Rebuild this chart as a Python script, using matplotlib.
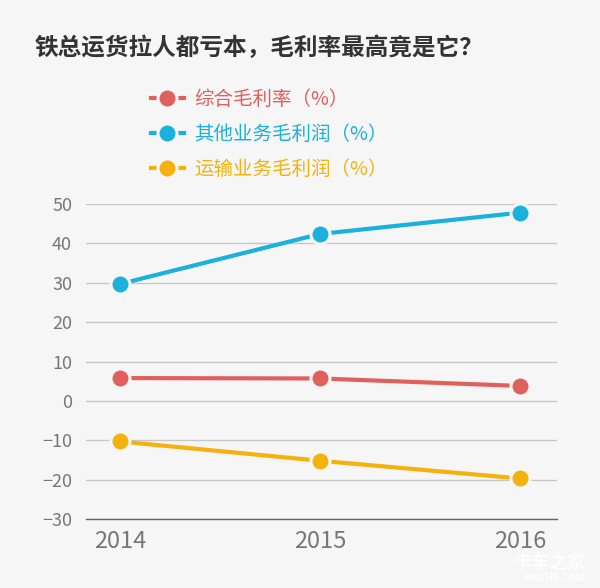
import numpy as np
import matplotlib.pyplot as plt
from matplotlib.lines import Line2D

plt.rcParams['font.family'] = ['Noto Sans CJK SC', 'DejaVu Sans']

years = [2014, 2015, 2016]
total_margin = [5.8, 5.7, 3.8]
other_margin = [29.7, 42.4, 47.8]
transport_margin = [-10.3, -15.2, -19.7]
labels = ['综合毛利率（%）', '其他业务毛利润（%）', '运输业务毛利润（%）']
colors = ['#e0605e', '#1ab1dc', '#f5b20e']
yticks = [-30, -20, -10, 0, 10, 20, 30, 40, 50]

bg = '#f6f6f6'
fig = plt.figure(figsize=(6, 5.88), dpi=100, facecolor=bg)
ax = fig.add_axes([0.1433, 0.1173, 0.785, 0.5357])
ax.set_facecolor(bg)

handles = []
for vals, c, lab in zip([total_margin, other_margin, transport_margin], colors, labels):
    ax.plot(years, vals, color=c, lw=3, zorder=3, solid_capstyle='butt')
    ax.plot(years, vals, ls='none', marker='o', ms=13.7, mfc=c, mec=bg, mew=2.2,
            zorder=4, clip_on=False)
    handles.append(Line2D([], [], color=c, lw=3, marker='o', ms=13.7, mfc=c,
                          mec=bg, mew=2.2, label=lab))

ax.set_xlim(2013.83, 2016.185)
ax.set_ylim(-30, 50)
ax.set_yticks(yticks)
ax.set_xticks(years)
ax.set_yticklabels([str(v).replace('-', '−') for v in yticks])
ax.grid(axis='y', color='#c8c8c8', lw=1)
ax.set_axisbelow(True)
for s in ['top', 'right', 'left']:
    ax.spines[s].set_visible(False)
ax.spines['bottom'].set_color('#666666')
ax.spines['bottom'].set_linewidth(1)
ax.tick_params(axis='both', length=0, colors='#777777')
ax.tick_params(axis='y', labelsize=13, pad=10)
ax.tick_params(axis='x', labelsize=17, pad=8)
for t in ax.get_xticklabels() + ax.get_yticklabels():
    t.set_fontweight('light')

fig.text(0.058, 0.918, '铁总运货拉人都亏本，毛利率最高竟是它？', ha='left', va='center',
         fontsize=17, fontweight='bold', color='#333333')

leg = fig.legend(handles=handles, loc='upper left', bbox_to_anchor=(0.222, 0.878),
                 frameon=False, handlelength=1.7, handletextpad=0.55,
                 labelspacing=0.72, labelcolor='linecolor', prop={'weight': 'light', 'size': 14})

fig.text(0.975, 0.043, '卡车之家', ha='right', va='center', fontsize=13,
         fontweight='bold', color='white', alpha=0.9)
fig.text(0.975, 0.017, '360CHE.COM', ha='right', va='center', fontsize=7,
         fontweight='bold', color='white', alpha=0.9)

fig.savefig('out.png', dpi=100, facecolor=bg)
